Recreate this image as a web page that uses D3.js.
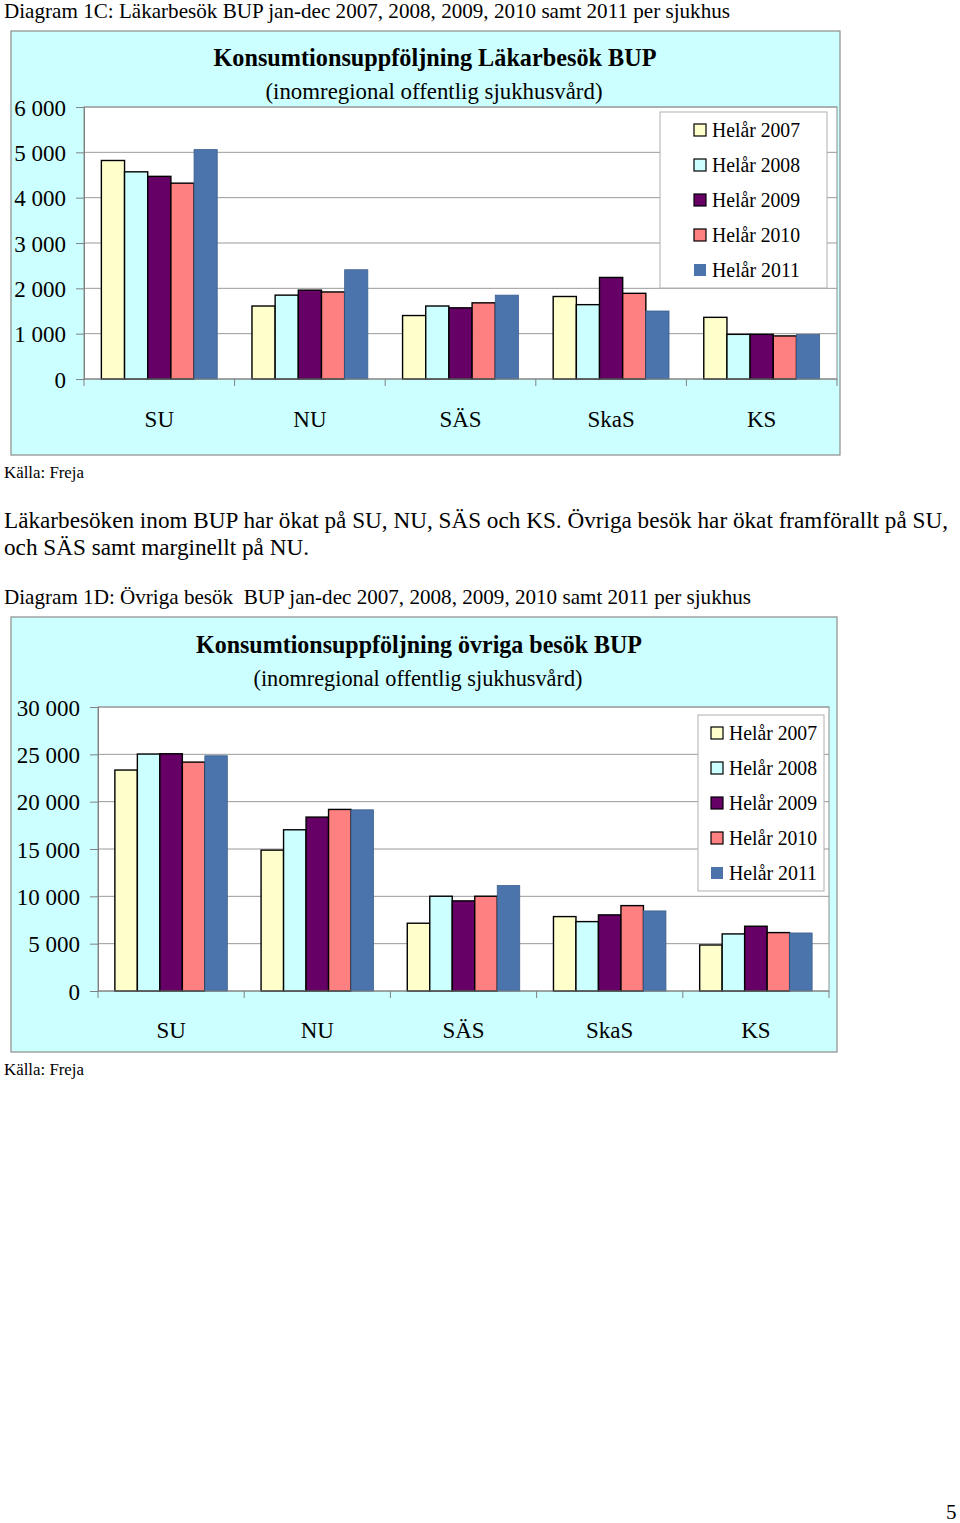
<!DOCTYPE html>
<html>
<head>
<meta charset="utf-8">
<script src="https://cdn.jsdelivr.net/npm/d3@7"></script>
<style>
  html, body { margin: 0; padding: 0; background: #ffffff; }
  svg { display: block; }
  text { font-family: "Liberation Serif", "Times New Roman", serif; fill: #000; }
</style>
</head>
<body>
<script>
// ---------------- DATA ----------------
const categories = ["SU", "NU", "SÄS", "SkaS", "KS"];
const seriesNames = ["Helår 2007", "Helår 2008", "Helår 2009", "Helår 2010", "Helår 2011"];

// Diagram 1C – Läkarbesök BUP (per sjukhus, per series)
const lakar2007 = [4820, 1610, 1400, 1820, 1360];
const lakar2008 = [4570, 1850, 1610, 1640, 985];
const lakar2009 = [4470, 1960, 1570, 2240, 985];
const lakar2010 = [4320, 1920, 1680, 1890, 950];
const lakar2011 = [5060, 2410, 1850, 1500, 980];
const lakarTicks = [0, 1000, 2000, 3000, 4000, 5000, 6000];

// Diagram 1D – Övriga besök BUP
const ovriga2007 = [23340, 14880, 7160, 7860, 4860];
const ovriga2008 = [25030, 17030, 10010, 7330, 6030];
const ovriga2009 = [25060, 18370, 9520, 8040, 6840];
const ovriga2010 = [24180, 19180, 10010, 9020, 6170];
const ovriga2011 = [24850, 19140, 11140, 8460, 6130];
const ovrigaTicks = [0, 5000, 10000, 15000, 20000, 25000, 30000];

const seriesFill = ["#FFFFCC", "#CCFFFF", "#660066", "#FF8080", "#4A74AB"];
const seriesStroke = ["#000000", "#000000", "#000000", "#000000", "#3C6090"];

// ---------------- PAGE ----------------
const W = 960, H = 1523;
const svg = d3.select("body").append("svg").attr("width", W).attr("height", H);

const fmt = v => d3.format(",")(v).replace(/,/g, " ");

function pageText(str, x, y, size, targetWidth) {
  const t = svg.append("text").attr("x", x).attr("y", y)
    .attr("font-size", size).text(str);
  if (targetWidth) t.attr("textLength", targetWidth).attr("lengthAdjust", "spacingAndGlyphs");
  return t;
}

pageText("Diagram 1C: Läkarbesök BUP jan-dec 2007, 2008, 2009, 2010 samt 2011 per sjukhus", 4, 18, 21, 726);
pageText("Källa: Freja", 4, 478, 17, 80);
pageText("Läkarbesöken inom BUP har ökat på SU, NU, SÄS och KS. Övriga besök har ökat framförallt på SU,", 4, 528, 23, 944);
pageText("och SÄS samt marginellt på NU.", 4, 555, 23, 305);
pageText("Diagram 1D: Övriga besök  BUP jan-dec 2007, 2008, 2009, 2010 samt 2011 per sjukhus", 4, 604, 21, 747).attr("xml:space", "preserve");
pageText("Källa: Freja", 4, 1075, 17, 80);
pageText("5", 946, 1519, 21);

// ---------------- CHART FUNCTION ----------------
function drawChart(cfg) {
  const g = svg.append("g");
  // outer background box
  g.append("rect")
    .attr("x", cfg.box[0]).attr("y", cfg.box[1])
    .attr("width", cfg.box[2]).attr("height", cfg.box[3])
    .attr("fill", "#CCFFFF").attr("stroke", "#8C8C8C").attr("stroke-width", 1.2);

  const x0 = d3.scaleBand().domain(categories).range([cfg.left, cfg.right]).padding(0);
  const x1 = d3.scaleBand().domain(seriesNames).range([0, x0.bandwidth()])
    .paddingInner(0).paddingOuter(0.75);
  const y = d3.scaleLinear().domain([0, cfg.ticks[cfg.ticks.length - 1]]).range([cfg.bottom, cfg.top]);

  // plot area
  g.append("rect")
    .attr("x", cfg.left).attr("y", cfg.top)
    .attr("width", cfg.right - cfg.left).attr("height", cfg.bottom - cfg.top)
    .attr("fill", "#FFFFFF").attr("stroke", "#8C8C8C").attr("stroke-width", 1);

  // gridlines
  g.append("g").selectAll("line").data(cfg.ticks.slice(1)).join("line")
    .attr("x1", cfg.left).attr("x2", cfg.right)
    .attr("y1", d => y(d)).attr("y2", d => y(d))
    .attr("stroke", "#9A9A9A").attr("stroke-width", 1);

  // bars
  cfg.values.forEach((vals, si) => {
    g.append("g").selectAll("rect").data(vals).join("rect")
      .attr("x", (d, i) => x0(categories[i]) + x1(seriesNames[si]))
      .attr("y", d => y(d))
      .attr("width", x1.bandwidth())
      .attr("height", d => y(0) - y(d))
      .attr("fill", seriesFill[si])
      .attr("stroke", seriesStroke[si])
      .attr("stroke-width", si === 4 ? 0.8 : 1.4);
  });

  // y axis
  const yAxis = d3.axisLeft(y).tickValues(cfg.ticks).tickSize(8).tickPadding(10).tickFormat(fmt);
  const ya = g.append("g").attr("transform", `translate(${cfg.left},0)`).call(yAxis);
  ya.select(".domain").attr("stroke", "#808080");
  ya.selectAll(".tick line").attr("stroke", "#808080");
  ya.selectAll(".tick text").attr("font-size", 23).attr("fill", "#000")
    .attr("font-family", '"Liberation Serif", serif').attr("x", cfg.yLabelRight - cfg.left).attr("dy", "0.35em");

  // x axis with category-boundary ticks
  const boundaries = categories.map(c => x0(c)).concat([cfg.right]);
  g.append("line").attr("x1", cfg.left).attr("x2", cfg.right)
    .attr("y1", y(0)).attr("y2", y(0)).attr("stroke", "#808080").attr("stroke-width", 1.2);
  g.append("g").selectAll("line").data(boundaries).join("line")
    .attr("x1", d => d).attr("x2", d => d)
    .attr("y1", y(0)).attr("y2", y(0) + 7)
    .attr("stroke", "#808080");
  g.append("g").selectAll("text").data(categories).join("text")
    .attr("x", d => x0(d) + x0.bandwidth() / 2)
    .attr("y", cfg.xLabelY)
    .attr("text-anchor", "middle").attr("font-size", 23).text(d => d);

  // titles
  g.append("text").attr("x", cfg.titleX).attr("y", cfg.titleY)
    .attr("text-anchor", "middle").attr("font-size", 25).attr("font-weight", "bold")
    .attr("textLength", cfg.titleW).attr("lengthAdjust", "spacingAndGlyphs")
    .text(cfg.title);
  g.append("text").attr("x", cfg.subX).attr("y", cfg.subY)
    .attr("text-anchor", "middle").attr("font-size", 23)
    .attr("textLength", cfg.subW).attr("lengthAdjust", "spacingAndGlyphs")
    .text("(inomregional offentlig sjukhusvård)");

  // legend
  const L = cfg.legend;
  g.append("rect").attr("x", L.x).attr("y", L.y).attr("width", L.w).attr("height", L.h)
    .attr("fill", "#FFFFFF").attr("stroke", "#B0B0B0").attr("stroke-width", 1);
  const li = g.append("g").selectAll("g").data(seriesNames).join("g")
    .attr("transform", (d, i) => `translate(0,${L.row0 + i * L.step})`);
  li.append("rect").attr("x", L.sx).attr("y", -6).attr("width", 12).attr("height", 12)
    .attr("fill", (d, i) => seriesFill[i])
    .attr("stroke", (d, i) => i === 4 ? "none" : "#000").attr("stroke-width", 1.2);
  li.append("text").attr("x", L.tx).attr("y", 0).attr("dy", "0.35em")
    .attr("font-size", 20).attr("textLength", 88).attr("lengthAdjust", "spacingAndGlyphs")
    .text(d => d);
}

drawChart({
  box: [11, 31, 829, 424],
  left: 84, right: 837, top: 107, bottom: 379,
  ticks: lakarTicks,
  values: [lakar2007, lakar2008, lakar2009, lakar2010, lakar2011],
  yLabelRight: 66, xLabelY: 427,
  title: "Konsumtionsuppföljning Läkarbesök BUP", titleX: 435, titleY: 66, titleW: 443,
  subX: 434, subY: 99, subW: 337,
  legend: { x: 660, y: 112, w: 167, h: 176, row0: 130, step: 35, sx: 694, tx: 712 }
});

drawChart({
  box: [11, 617, 826, 435],
  left: 98, right: 829, top: 707, bottom: 991,
  ticks: ovrigaTicks,
  values: [ovriga2007, ovriga2008, ovriga2009, ovriga2010, ovriga2011],
  yLabelRight: 80, xLabelY: 1038,
  title: "Konsumtionsuppföljning övriga besök BUP", titleX: 419, titleY: 653, titleW: 446,
  subX: 418, subY: 686, subW: 329,
  legend: { x: 698, y: 715, w: 126, h: 176, row0: 733, step: 35, sx: 711, tx: 729 }
});
</script>
</body>
</html>
